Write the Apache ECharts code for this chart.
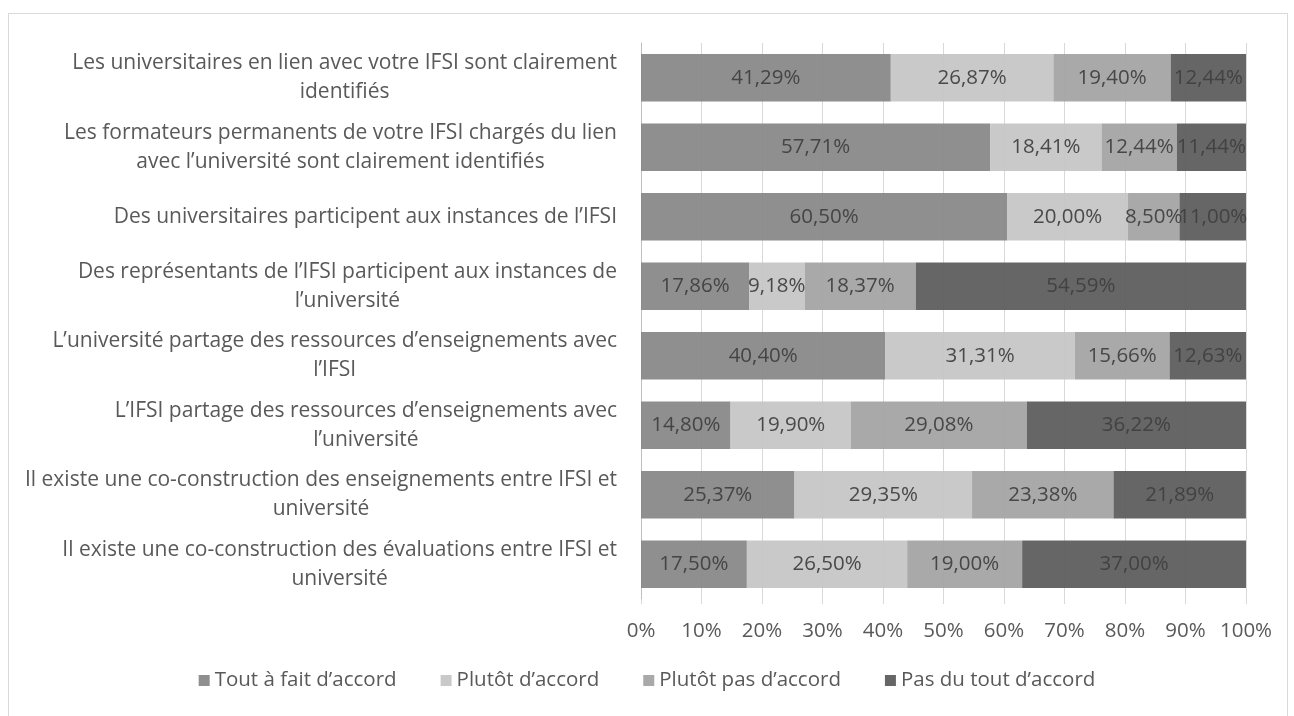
<!DOCTYPE html>
<html>
<head>
<meta charset="utf-8">
<script src="https://cdn.jsdelivr.net/npm/echarts@6/dist/echarts.min.js"></script>
<style>
  html, body { margin: 0; padding: 0; background: #fff; }
  #frame { position: absolute; left: 8px; top: 13px; width: 1280px; height: 720px; border: 1px solid #d9d9d9; box-sizing: border-box; }
  #chart { position: absolute; left: 0; top: 0; width: 1294px; height: 716px; }
</style>
</head>
<body>
<div id="frame"></div>
<div id="chart"></div>
<script>
// questions (lignes du graphique)
var categories = [
    ['Les universitaires en lien avec votre IFSI sont clairement', 'identifiés'],
    ['Les formateurs permanents de votre IFSI chargés du lien', 'avec l’université sont clairement identifiés'],
    ['Des universitaires participent aux instances de l’IFSI'],
    ['Des représentants de l’IFSI participent aux instances de', 'l’université'],
    ['L’université partage des ressources d’enseignements avec', 'l’IFSI'],
    ['L’IFSI partage des ressources d’enseignements avec', 'l’université'],
    ['Il existe une co-construction des enseignements entre IFSI et', 'université'],
    ['Il existe une co-construction des évaluations entre IFSI et', 'université']
];
var seriesNames = ['Tout à fait d’accord', 'Plutôt d’accord', 'Plutôt pas d’accord', 'Pas du tout d’accord'];
var toutAFait = [41.29, 57.71, 60.50, 17.86, 40.40, 14.80, 25.37, 17.50];
var plutot    = [26.87, 18.41, 20.00, 9.18, 31.31, 19.90, 29.35, 26.50];
var plutotPas = [19.40, 12.44, 8.50, 18.37, 15.66, 29.08, 23.38, 19.00];
var pasDuTout = [12.44, 11.44, 11.00, 54.59, 12.63, 36.22, 21.89, 37.00];
var xTicks = [0, 10, 20, 30, 40, 50, 60, 70, 80, 90, 100];

var colors = ['#878787', '#c5c5c5', '#a3a3a3', '#5a5a5a'];
var police = 'Open Sans';
var taille = 20.5;

var myChart = echarts.init(document.getElementById('chart'));

function mkSerie(i, data) {
    return {
        name: seriesNames[i],
        type: 'bar',
        stack: 'total',
        barCategoryGap: '32%',
        data: data,
        itemStyle: { color: colors[i], opacity: 0.93 },
        label: {
            show: true,
            position: 'inside',
            color: '#404040',
            fontFamily: police,
            fontSize: taille,
            formatter: function (p) {
                return p.value.toFixed(2).replace('.', ',') + '%';
            }
        }
    };
}

var option = {
    backgroundColor: 'transparent',
    color: colors,
    animation: false,
    grid: { left: 641, right: 48, top: 43, bottom: 117, containLabel: false },
    legend: {
        bottom: 20,
        left: 'center',
        icon: 'rect',
        itemWidth: 11,
        itemHeight: 11,
        itemGap: 44,
        textStyle: { color: '#595959', fontFamily: police, fontSize: taille },
        data: seriesNames
    },
    xAxis: {
        type: 'value',
        min: xTicks[0],
        max: xTicks[xTicks.length - 1],
        interval: 10,
        axisLine: { show: false },
        axisTick: { show: true, length: 5, lineStyle: { color: '#d9d9d9' } },
        splitLine: { show: true, lineStyle: { color: '#d9d9d9' } },
        axisLabel: {
            color: '#595959',
            fontFamily: police,
            fontSize: taille,
            margin: 22,
            formatter: '{value}%'
        }
    },
    yAxis: {
        type: 'category',
        inverse: true,
        data: categories.map(function (c) { return c.join('\n'); }),
        axisLine: { show: true, lineStyle: { color: '#bfbfbf' } },
        axisTick: { show: false },
        axisLabel: {
            margin: 24,
            align: 'right',
            color: '#595959',
            fontFamily: police,
            fontSize: 21,
            lineHeight: 29,
            formatter: function (v) {
                return v.split('\n').map(function (l) { return '{c|' + l + '}'; }).join('\n');
            },
            rich: {
                c: { align: 'center', color: '#595959', fontFamily: police, fontSize: 21, lineHeight: 29 }
            }
        }
    },
    series: [
        mkSerie(0, toutAFait),
        mkSerie(1, plutot),
        mkSerie(2, plutotPas),
        mkSerie(3, pasDuTout)
    ]
};
myChart.setOption(option);
</script>
</body>
</html>
